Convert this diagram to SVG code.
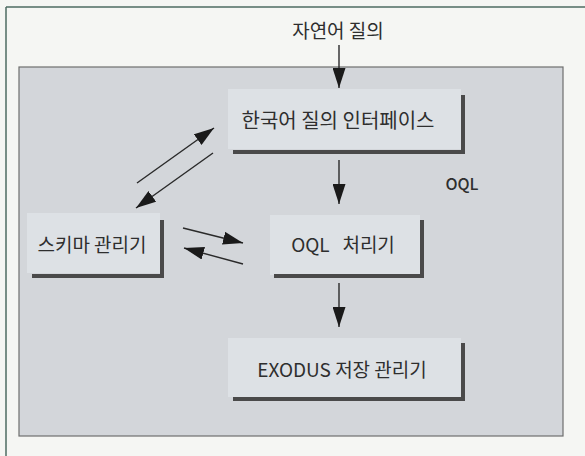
<svg xmlns="http://www.w3.org/2000/svg" width="585" height="456" viewBox="0 0 585 456">
<defs>
<marker id="ah" markerWidth="20" markerHeight="13" refX="20" refY="6.5" orient="auto" markerUnits="userSpaceOnUse">
<path d="M0,0 L20,6.5 L0,13 Z" fill="#1a1a1a"/>
</marker>
<style>
.lbl{font-family:"Noto Sans CJK KR","Liberation Sans",sans-serif;fill:#2e2e2e;text-anchor:middle}
.box{fill:#dde1e5}
.sh{fill:#4a4a4a}
.con{stroke:#2a2a2a;stroke-width:1.4;fill:none;marker-end:url(#ah)}
</style>
</defs>
<rect x="0" y="0" width="585" height="456" fill="#f5f6f3"/>
<line x1="6" y1="7" x2="585" y2="7" stroke="#4d6b62" stroke-width="1.5"/>
<line x1="6" y1="7" x2="6" y2="456" stroke="#4d6b62" stroke-width="1.5"/>
<rect id="container" x="19" y="67" width="544" height="369" fill="#d3d6da" stroke="#6e6e6e" stroke-width="1.2"/>
<text class="lbl" x="338" y="38" font-size="19">자연어 질의</text>
<text class="lbl" x="462" y="190" font-size="16" font-weight="500">OQL</text>
<g id="korean-interface">
<rect class="box" x="228" y="89" width="233" height="60"/>
<rect class="sh" x="461" y="95" width="4" height="59"/>
<rect class="sh" x="233" y="150" width="232" height="4"/>
<text class="lbl" x="338" y="128" font-size="20">한국어 질의 인터페이스</text>
</g>
<g id="schema-manager">
<rect class="box" x="27" y="213" width="133" height="60"/>
<rect class="sh" x="160" y="220" width="4" height="58"/>
<rect class="sh" x="32" y="274" width="132" height="4"/>
<text class="lbl" x="92" y="252" font-size="19">스키마 관리기</text>
</g>
<g id="oql-processor">
<rect class="box" x="270" y="215" width="150" height="60"/>
<rect class="sh" x="420" y="220" width="4" height="58"/>
<rect class="sh" x="274" y="274" width="150" height="4"/>
<text class="lbl" x="343" y="252" font-size="19" xml:space="preserve">OQL   처리기</text>
</g>
<g id="exodus">
<rect class="box" x="228" y="338" width="233" height="59"/>
<rect class="sh" x="461" y="343" width="4" height="58"/>
<rect class="sh" x="233" y="397" width="232" height="4"/>
<text class="lbl" x="342" y="377" font-size="19">EXODUS 저장 관리기</text>
</g>
<g id="connectors">
<line class="con" x1="339" y1="45" x2="339" y2="88"/>
<line class="con" x1="339" y1="160" x2="339" y2="204"/>
<line class="con" x1="339" y1="283" x2="339" y2="327"/>
<line class="con" x1="137" y1="183" x2="214" y2="128"/>
<line class="con" x1="213" y1="153" x2="136" y2="208"/>
<line class="con" x1="183" y1="228" x2="243" y2="243"/>
<line class="con" x1="243" y1="264" x2="184" y2="248"/>
</g>
</svg>
